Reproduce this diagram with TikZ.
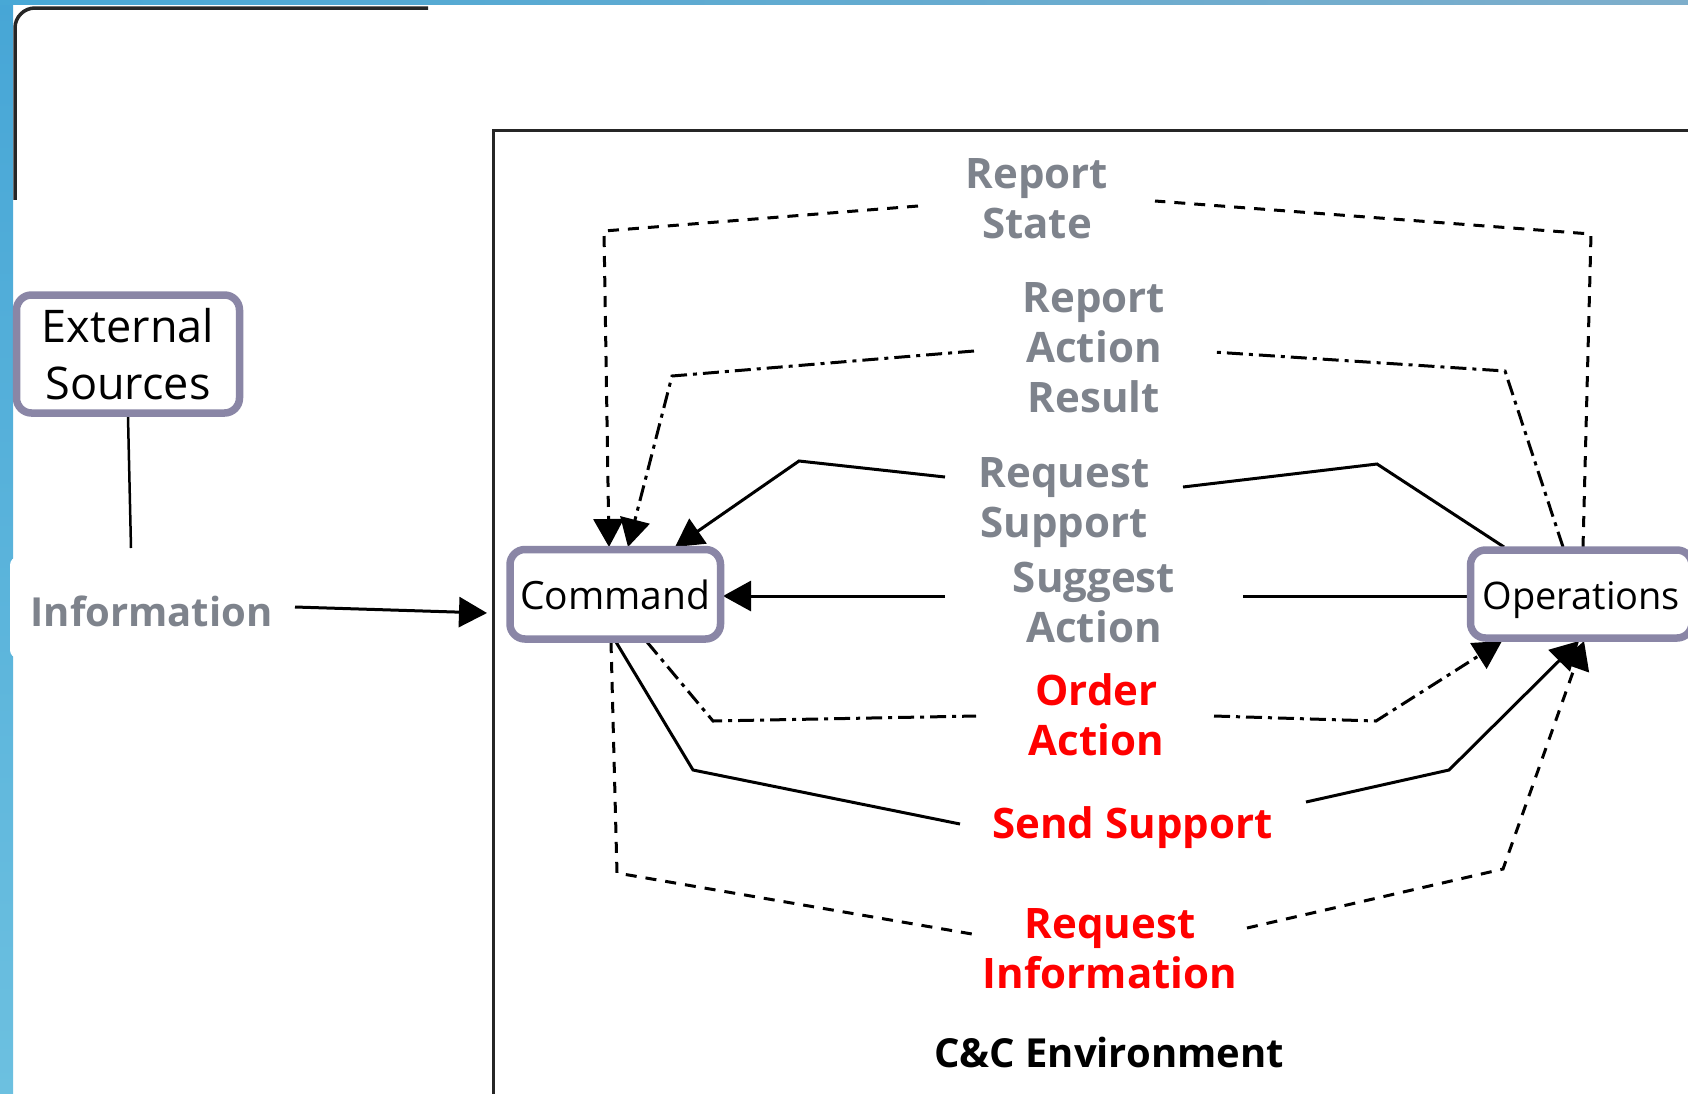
\documentclass[tikz,border=0pt]{standalone}
\usepackage{fontspec}
\setmainfont{Open Sans}
\usetikzlibrary{arrows.meta,calc}
\definecolor{boxborder}{HTML}{8A86A6}
\definecolor{lblgray}{HTML}{7E838C}
\definecolor{lblred}{HTML}{FF0000}
\definecolor{stripTop}{HTML}{47A6D6}
\definecolor{stripBot}{HTML}{6CC0E0}
\definecolor{barL}{HTML}{48A8D6}
\definecolor{barM}{HTML}{8DB6A8}
\definecolor{barR}{HTML}{7EAECB}
\newcommand{\mylines}[1]{\begin{tabular}[t]{@{}c@{}}#1\end{tabular}}
\pgfdeclarelayer{paper}
\pgfdeclarelayer{bg}
\pgfsetlayers{paper,bg,main}
\tikzset{
  pbox/.style={draw=boxborder, line width=7.5pt, rounded corners=15pt, fill=white,
    inner sep=0pt, align=center, text=black},
  onebox/.style={pbox, text height=36pt, text depth=6pt},
  glabel/.style={anchor=base, inner sep=0pt, text=lblgray, font=\fontsize{42}{50}\selectfont\bfseries},
  rlabel/.style={glabel, text=lblred},
  conn/.style={line width=3pt, black},
  tipped/.style={-{Triangle[length=28pt,width=30pt]}},
  dsh/.style={dash pattern=on 11pt off 9pt},
  dshdot/.style={dash pattern=on 16pt off 6pt on 4pt off 6pt},
}
\begin{document}
\begin{tikzpicture}[x=1pt,y=-1pt]
\useasboundingbox (0,0) rectangle (1688,1093);

\begin{pgfonlayer}{paper}
  \fill[white] (0,0) rectangle (1688,1093);
  \shade[top color=stripTop, bottom color=stripBot] (0,0) rectangle (13,1093);
  \shade[left color=barL, middle color=barM, right color=barR] (0,0) rectangle (1688,4);
  \fill[white, rounded corners=8pt] (10,557) rectangle (300,658);
  % partial rounded frame top-left
  \begin{scope}
    \clip (0,4) rectangle (428,199);
    \draw[line width=3.5pt, black!85, rounded corners=20pt] (15,240) -- (15,8) -- (448,8) -- (448,240);
  \end{scope}
  % C&C environment frame
  \draw[line width=3pt, black!85] (493,1100) -- (493,130) -- (1700,130);
\end{pgfonlayer}

% nodes
\node[pbox, minimum width=223pt, minimum height=118pt,
      font=\fontsize{45}{57}\selectfont] (ext) at (128,354) {External\\Sources};
\node[onebox, minimum width=210.5pt, minimum height=89.5pt,
      font=\fontsize{39}{46}\selectfont] (cmd) at (615.25,594.25) {Command};
\node[onebox, minimum width=221.5pt, minimum height=88pt,
      font=\fontsize{38}{46}\selectfont] (ops) at (1581.25,594) {Operations};

\node[glabel, font=\fontsize{40}{50}\selectfont\bfseries] (info) at (151.5,626) {Information};

\node[glabel] (rs)  at (1037,188)  {\mylines{Report\\State}};
\node[glabel] (rar) at (1094,312)  {\mylines{Report\\Action\\Result}};
\node[glabel] (rqs) at (1064,487)  {\mylines{Request\\Support}};
\node[glabel] (sa)  at (1094,592)  {\mylines{Suggest\\Action}};
\node[rlabel] (oa)  at (1096.5,705) {\mylines{Order\\Action}};
\node[rlabel] (ss)  at (1132.5,838) {Send Support};
\node[rlabel] (ri)  at (1110,938)  {\mylines{Request\\Information}};
\node[glabel, text=black, font=\fontsize{40}{50}\selectfont\bfseries] (envlbl) at (1109,1067) {C\&C Environment};

% connector end points
\coordinate (infoL)  at (131,548);
\coordinate (envIn)  at (487,613);
\coordinate (infoR)  at (295,607);
\coordinate (opsW)   at (ops.west |- 0,596);

\begin{pgfonlayer}{bg}
  % External sources -> Information -> C&C environment
  \draw[line width=2.5pt] (ext.south) -- (infoL);
  \draw[conn, tipped] (infoR) -- (envIn);

  % Report State (dashed)
  \draw[conn, dsh] (1583,547) -- (1591,234) -- (1155,201);
  \draw[conn, dsh, tipped] (918,206) -- (604,231) -- (609,547);

  % Report Action Result (dash-dot)
  \draw[conn, dshdot] (1563,547) -- (1505,371) -- (1213,352);
  \draw[conn, dshdot, tipped] (974,351) -- (672,376) -- (628,547);

  % Request Support (solid)
  \draw[conn] (1504,547) -- (1377,464) -- (1183,487);
  \draw[conn, tipped] (945,477) -- (799,461) -- (675,547);

  % Suggest Action (solid)
  \draw[conn] (opsW) -- (1243,596);
  \draw[conn, tipped] (945,596) -- (723,596);

  % Order Action (dash-dot)
  \draw[conn, dshdot] (647,642) -- (713,721) -- (976,716);
  \draw[conn, dshdot, tipped] (1214,716) -- (1376,721) -- (1502,641);

  % Send Support (solid)
  \draw[conn] (616,642) -- (693,770) -- (960,824);
  \draw[conn, tipped] (1306,802) -- (1449,770) -- (1579,641);

  % Request Information (dashed)
  \draw[conn, dsh] (611,642) -- (617,873) -- (972,934);
  \draw[conn, dsh, tipped] (1247,928) -- (1503,869) -- (1584,641);
\end{pgfonlayer}
\end{tikzpicture}
\end{document}
